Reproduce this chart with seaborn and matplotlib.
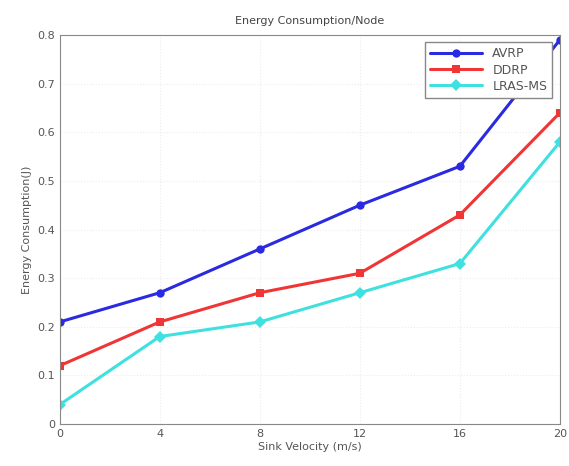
import seaborn as sns
import matplotlib.pyplot as plt
import pandas as pd

# --- data ---
velocity = [0, 4, 8, 12, 16, 20]
avrp = [0.21, 0.27, 0.36, 0.45, 0.53, 0.79]
ddrp = [0.12, 0.21, 0.27, 0.31, 0.43, 0.64]
lras = [0.04, 0.18, 0.21, 0.27, 0.33, 0.58]

df = pd.DataFrame({
    "Sink Velocity (m/s)": velocity * 3,
    "Energy": avrp + ddrp + lras,
    "Protocol": ["AVRP"] * 6 + ["DDRP"] * 6 + ["LRAS-MS"] * 6,
})

sns.set_style("whitegrid", {"grid.color": "#ececec", "grid.linestyle": ":",
                            "axes.edgecolor": "#888888"})
plt.rcParams["font.family"] = ["DejaVu Sans"]

fig = plt.figure(figsize=(5.69, 4.66), dpi=100)
ax = fig.add_axes([0.105, 0.09, 0.879, 0.835])

palette = {"AVRP": "#2a2ae0", "DDRP": "#ef3535", "LRAS-MS": "#3fe0e0"}
markers = {"AVRP": "o", "DDRP": "s", "LRAS-MS": "D"}
sns.lineplot(data=df, x="Sink Velocity (m/s)", y="Energy", hue="Protocol",
             style="Protocol", markers=markers, dashes=False, palette=palette,
             linewidth=2.2, markersize=6, markeredgewidth=0, ax=ax)

ax.set_xlim(0, 20)
ax.set_ylim(0, 0.8)
ax.set_xticks(velocity)
ax.set_yticks([0, 0.1, 0.2, 0.3, 0.4, 0.5, 0.6, 0.7, 0.8])
ax.set_yticklabels(["0", "0.1", "0.2", "0.3", "0.4", "0.5", "0.6", "0.7", "0.8"])
ax.tick_params(labelsize=8, colors="#555555", length=3, direction="in")
ax.set_xlabel("Sink Velocity (m/s)", fontsize=8, color="#555555", labelpad=2)
ax.set_ylabel("Energy Consumption(J)", fontsize=8, color="#555555", labelpad=4)
ax.set_title("Energy Consumption/Node", fontsize=8, color="#444444", pad=8)

leg = ax.legend(loc="upper right", fontsize=9, frameon=True, fancybox=False,
                framealpha=1, edgecolor="#888888", handlelength=4.2,
                borderaxespad=0.6, labelspacing=0.25, borderpad=0.4)
for t in leg.get_texts():
    t.set_color("#555555")

plt.savefig("out.png", dpi=100)
